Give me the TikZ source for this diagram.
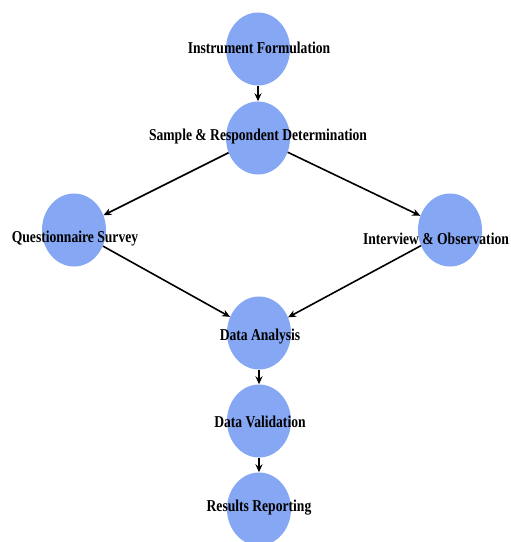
\documentclass[tikz,border=0pt]{standalone}
\usepackage{fontspec}
\setmainfont{Liberation Serif}
\usepackage{xcolor}
\usetikzlibrary{shapes.geometric,arrows.meta}
\definecolor{stagefill}{RGB}{134,167,243}
\newcommand{\stagetext}[1]{\scalebox{1}[1.22]{#1}}
\tikzset{
    stage-node/.style = {ellipse, fill=stagefill, minimum width=64pt, minimum height=73pt, inner sep=0pt},
    stage-label/.style = {font=\fontsize{13.6}{15}\selectfont\bfseries, text=black, inner sep=0pt},
    flow-arrow/.style = {draw=black, line width=1.6pt, -{Stealth[length=8pt,width=7pt]}},
}

\begin{document}
\begin{tikzpicture}[x=1pt,y=-1pt]
\useasboundingbox (0,0) rectangle (511,542);
% circles
\node [stage-node] (instrument) at (258,49) {};
\node [stage-node] (sample) at (258,138) {};
\node [stage-node] (survey) at (74,230) {};
\node [stage-node] (interview) at (450,230) {};
\node [stage-node] (analysis) at (259,333) {};
\node [stage-node] (validation) at (259,421) {};
\node [stage-node] (reporting) at (259,509) {};
% connectors
\draw [flow-arrow] (instrument) -- (sample);
\draw [flow-arrow] (sample) -- (survey);
\draw [flow-arrow] (sample) -- (interview);
\draw [flow-arrow] (survey) -- (analysis);
\draw [flow-arrow] (interview) -- (analysis);
\draw [flow-arrow] (analysis) -- (validation);
\draw [flow-arrow] (validation) -- (reporting);
% labels
\node [stage-label] at (259,48) {\stagetext{Instrument Formulation}};
\node [stage-label] at (258,137) {\stagetext{Sample \& Respondent Determination}};
\node [stage-label] at (75,239) {\stagetext{Questionnaire Survey}};
\node [stage-label] at (436,239) {\stagetext{Interview \& Observation}};
\node [stage-label] at (260,337) {\stagetext{Data Analysis}};
\node [stage-label] at (260,422) {\stagetext{Data Validation}};
\node [stage-label] at (259,508) {\stagetext{Results Reporting}};
\end{tikzpicture}
\end{document}
